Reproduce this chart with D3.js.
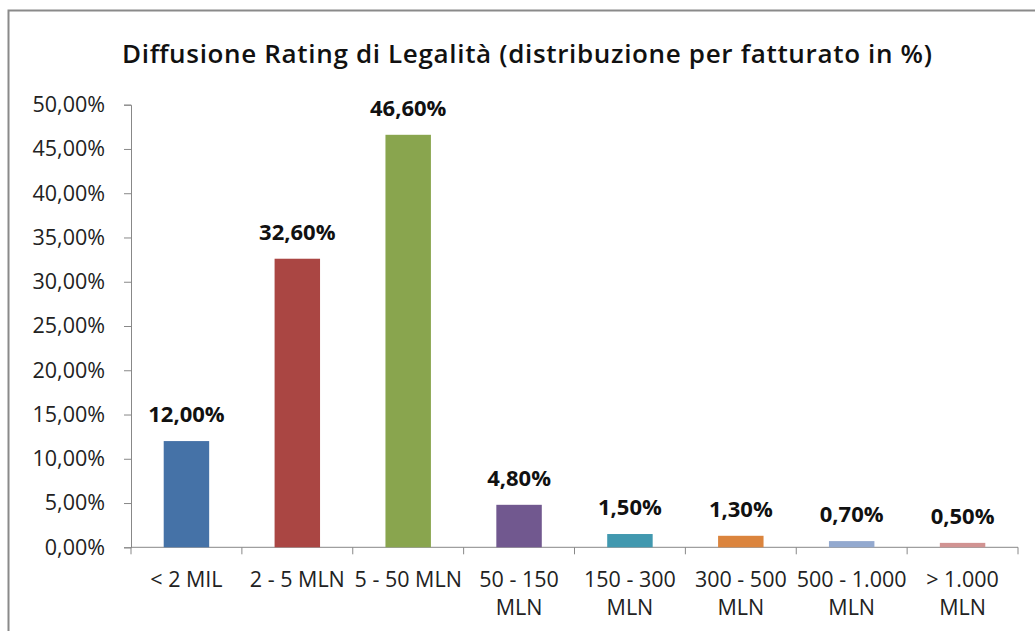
<!DOCTYPE html>
<html>
<head>
<meta charset="utf-8">
<script src="https://cdn.jsdelivr.net/npm/d3@7"></script>
<style>
  body { margin: 0; background: #fff; }
  text { font-family: "Open Sans", "Liberation Sans", sans-serif; }
</style>
</head>
<body>
<div id="chart"></div>
<script>
// chart data
var categories = ["< 2 MIL", "2 - 5 MLN", "5 - 50 MLN", "50 - 150 MLN", "150 - 300 MLN", "300 - 500 MLN", "500 - 1.000 MLN", "> 1.000 MLN"]
var labelLines = [["< 2 MIL"], ["2 - 5 MLN"], ["5 - 50 MLN"], ["50 - 150", "MLN"], ["150 - 300", "MLN"], ["300 - 500", "MLN"], ["500 - 1.000", "MLN"], ["> 1.000", "MLN"]]
var values = [12.0, 32.6, 46.6, 4.8, 1.5, 1.3, 0.7, 0.5]
var barColors = ["#4572A7", "#AA4643", "#89A54E", "#71588F", "#4198AF", "#DB843D", "#93A9CF", "#D19392"]
var yTicks = [0, 5, 10, 15, 20, 25, 30, 35, 40, 45, 50]
var title = "Diffusione Rating di Legalità (distribuzione per fatturato in %)"

var W = 1035, H = 631
var mLeft = 131, mRight = 1018, mTop = 104.7, mBottom = 547.3

const fmt = v => d3.format(".2f")(v).replace(".", ",") + "%"

const svg = d3.select("#chart").append("svg")
  .attr("width", W)
  .attr("height", H)

// outer chart frame
svg.append("rect")
  .attr("x", 8.5).attr("y", 10.5)
  .attr("width", W + 20).attr("height", H + 20)
  .attr("fill", "none")
  .attr("stroke", "#8a8a8a")
  .attr("stroke-width", 2)

svg.append("text")
  .attr("x", 527).attr("y", 63)
  .attr("text-anchor", "middle")
  .attr("font-size", 26)
  .attr("font-weight", 600)
  .attr("fill", "#111")
  .attr("textLength", 810)
  .attr("lengthAdjust", "spacing")
  .text(title)

const x = d3.scaleBand()
  .domain(categories)
  .range([mLeft, mRight])
  .paddingInner(0.59)
  .paddingOuter(0.295)

const y = d3.scaleLinear()
  .domain([0, 50])
  .range([mBottom, mTop])

// y axis
const yAxis = svg.append("g")
  .attr("transform", `translate(${mLeft},0)`)
  .call(d3.axisLeft(y).tickValues(yTicks).tickFormat(fmt).tickSizeOuter(0).tickSize(7).tickPadding(19))
yAxis.selectAll("line, path").attr("stroke", "#888")
yAxis.selectAll("text")
  .attr("font-size", 21.5)
  .attr("fill", "#222")
  .attr("font-family", "Open Sans, sans-serif")

// x axis: ticks on category boundaries
const bounds = d3.range(categories.length + 1).map(i => mLeft + i * (mRight - mLeft) / categories.length)
const xg = svg.append("g")
xg.append("line")
  .attr("x1", mLeft).attr("x2", mRight)
  .attr("y1", mBottom).attr("y2", mBottom)
  .attr("stroke", "#888")
xg.selectAll("line.tick")
  .data(bounds)
  .join("line")
  .attr("class", "tick")
  .attr("x1", d => d).attr("x2", d => d)
  .attr("y1", mBottom).attr("y2", mBottom + 7)
  .attr("stroke", "#888")

const xl = xg.selectAll("text.cat")
  .data(categories)
  .join("text")
  .attr("class", "cat")
  .attr("x", d => x(d) + x.bandwidth() / 2)
  .attr("y", 587)
  .attr("text-anchor", "middle")
  .attr("font-size", 21.5)
  .attr("fill", "#222")
xl.selectAll("tspan")
  .data((d, i) => labelLines[i])
  .join("tspan")
  .attr("x", function () { return d3.select(this.parentNode).attr("x") })
  .attr("dy", (d, i) => i == 0 ? 0 : 28)
  .text(d => d)

// bars
svg.append("g")
  .selectAll("rect")
  .data(values)
  .join("rect")
  .attr("x", (d, i) => x(categories[i]))
  .attr("y", d => y(d))
  .attr("width", x.bandwidth())
  .attr("height", d => y(0) - y(d))
  .attr("fill", (d, i) => barColors[i])

// value labels
svg.append("g")
  .selectAll("text")
  .data(values)
  .join("text")
  .attr("x", (d, i) => x(categories[i]) + x.bandwidth() / 2)
  .attr("y", d => y(d) - 19)
  .attr("text-anchor", "middle")
  .attr("font-size", 22)
  .attr("font-weight", 700)
  .attr("fill", "#111")
  .text(fmt)
</script>
</body>
</html>
